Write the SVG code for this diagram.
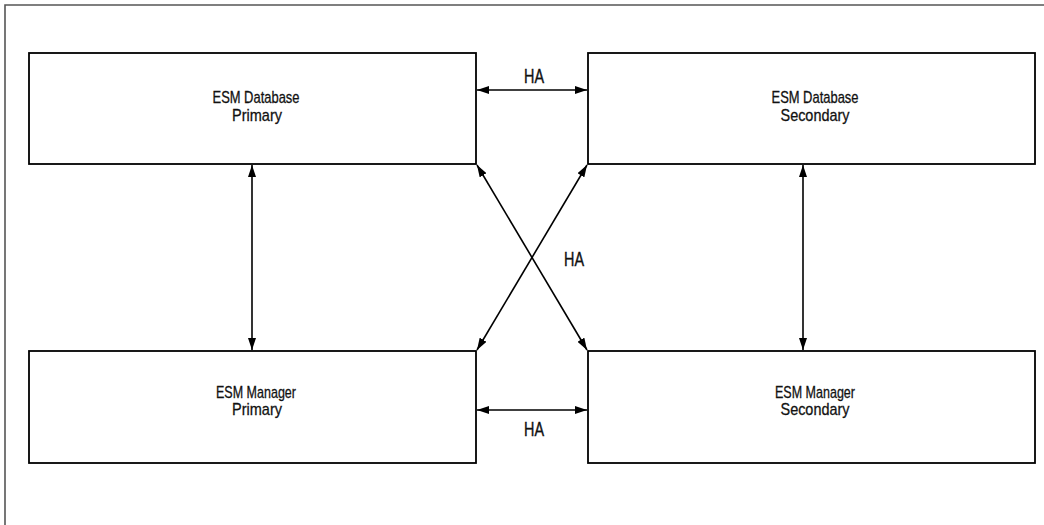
<svg xmlns="http://www.w3.org/2000/svg" width="1044" height="525" viewBox="0 0 1044 525">
  <style>
    .box { fill: #fff; stroke: #000; stroke-width: 1.8; }
    .lbl { font-family: "Liberation Sans", Arial, sans-serif; font-size: 17px; fill: #111; stroke: #111; stroke-width: 0.3; text-anchor: middle; }
    .ha { font-family: "Liberation Sans", Arial, sans-serif; font-size: 20px; fill: #111; stroke: #111; stroke-width: 0.4; text-anchor: middle; }
    .link { stroke: #000; stroke-width: 1.6; fill: none; marker-start: url(#tip); marker-end: url(#tip); }
  </style>
  <defs>
    <marker id="tip" viewBox="0 0 12 8" refX="12" refY="4" markerWidth="12" markerHeight="8" markerUnits="userSpaceOnUse" orient="auto-start-reverse">
      <path d="M0,0 L12,4 L0,8 z" fill="#000"/>
    </marker>
  </defs>
  <rect width="1044" height="525" fill="#fff"/>
  <!-- page frame: top and left edges only -->
  <path d="M5,525 V5 H1044" fill="none" stroke="#555" stroke-width="1.6"/>

  <g id="db-primary">
    <rect class="box" x="29" y="53" width="447" height="111"/>
    <text class="lbl" x="256" y="102.5" textLength="87" lengthAdjust="spacingAndGlyphs">ESM Database</text>
    <text class="lbl" x="257" y="120.5" textLength="50" lengthAdjust="spacingAndGlyphs">Primary</text>
  </g>
  <g id="db-secondary">
    <rect class="box" x="588" y="53" width="447" height="111"/>
    <text class="lbl" x="815" y="102.5" textLength="87" lengthAdjust="spacingAndGlyphs">ESM Database</text>
    <text class="lbl" x="815" y="120.5" textLength="69" lengthAdjust="spacingAndGlyphs">Secondary</text>
  </g>
  <g id="mgr-primary">
    <rect class="box" x="29" y="351" width="447" height="112"/>
    <text class="lbl" x="256" y="398" textLength="80" lengthAdjust="spacingAndGlyphs">ESM Manager</text>
    <text class="lbl" x="257" y="415" textLength="50" lengthAdjust="spacingAndGlyphs">Primary</text>
  </g>
  <g id="mgr-secondary">
    <rect class="box" x="588" y="351" width="447" height="112"/>
    <text class="lbl" x="815" y="398" textLength="80" lengthAdjust="spacingAndGlyphs">ESM Manager</text>
    <text class="lbl" x="815" y="415" textLength="69" lengthAdjust="spacingAndGlyphs">Secondary</text>
  </g>

  <g id="connectors">
    <line class="link" x1="477" y1="90" x2="587" y2="90"/>
    <line class="link" x1="477" y1="410" x2="587" y2="410"/>
    <line class="link" x1="252" y1="165" x2="252" y2="350"/>
    <line class="link" x1="803" y1="165" x2="803" y2="350"/>
    <line class="link" x1="477" y1="165" x2="587" y2="350"/>
    <line class="link" x1="587" y1="165" x2="477" y2="350"/>
    <text class="ha" x="534" y="82.5" textLength="20" lengthAdjust="spacingAndGlyphs">HA</text>
    <text class="ha" x="574" y="266" textLength="20" lengthAdjust="spacingAndGlyphs">HA</text>
    <text class="ha" x="534" y="436" textLength="20" lengthAdjust="spacingAndGlyphs">HA</text>
  </g>
</svg>
